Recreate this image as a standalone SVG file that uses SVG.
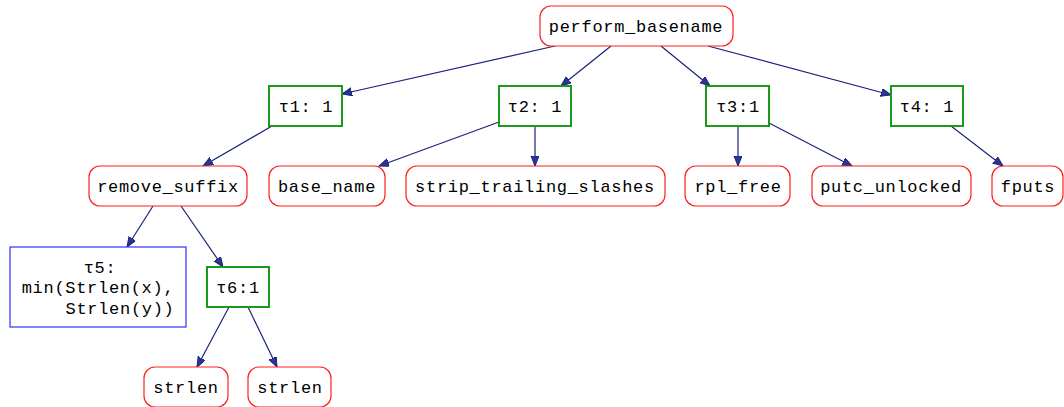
<svg xmlns="http://www.w3.org/2000/svg" width="1064" height="407" viewBox="0 0 1064 407">
<style>
text{font-family:"Liberation Mono","Courier New",monospace;font-size:17px;letter-spacing:0.7px;fill:#000;text-anchor:middle}
.fn{fill:#fff;stroke:#ff2020;stroke-width:1.2}
.t{fill:#fff;stroke:#1a9a1a;stroke-width:2}
.b{fill:#fff;stroke:#3030ff;stroke-width:1.2}
.e{stroke:#1a237a;stroke-width:1.2;fill:none;marker-end:url(#a)}
</style>
<defs>
<marker id="a" markerUnits="userSpaceOnUse" markerWidth="12" markerHeight="10" refX="10" refY="4" orient="auto">
<path d="M0,0 L10,4 L0,8 Z" fill="#2a3590" stroke="#1a237a" stroke-width="1"/>
</marker>
</defs>
<rect width="1064" height="407" fill="#fff"/>
<g id="connectors">
<line class="e" x1="555" y1="46" x2="342" y2="94"/>
<line class="e" x1="611" y1="46" x2="561" y2="86"/>
<line class="e" x1="661" y1="46" x2="710" y2="86"/>
<line class="e" x1="708" y1="46" x2="891" y2="95"/>
<line class="e" x1="272" y1="126" x2="203" y2="166"/>
<line class="e" x1="499" y1="122" x2="379" y2="166"/>
<line class="e" x1="535" y1="126" x2="535" y2="166"/>
<line class="e" x1="738" y1="126" x2="738" y2="166"/>
<line class="e" x1="769" y1="123" x2="852" y2="166"/>
<line class="e" x1="951" y1="126" x2="1003" y2="166"/>
<line class="e" x1="153" y1="206" x2="127" y2="247"/>
<line class="e" x1="181" y1="206" x2="223" y2="267"/>
<line class="e" x1="229" y1="307" x2="197" y2="367"/>
<line class="e" x1="248" y1="307" x2="277" y2="367"/>
</g>
<g id="perform_basename"><rect class="fn" x="540" y="6" width="193" height="40" rx="11"/><text x="636" y="32">perform_basename</text></g>
<g id="t1"><rect class="t" x="269" y="86" width="73" height="40"/><text x="306" y="112">τ1: 1</text></g>
<g id="t2"><rect class="t" x="499" y="86" width="72" height="40"/><text x="535" y="112">τ2: 1</text></g>
<g id="t3"><rect class="t" x="706" y="86" width="63" height="40"/><text x="738" y="112">τ3:1</text></g>
<g id="t4"><rect class="t" x="891" y="86" width="72" height="40"/><text x="927" y="112">τ4: 1</text></g>
<g id="remove_suffix"><rect class="fn" x="89" y="166" width="158" height="40" rx="11"/><text x="168" y="192">remove_suffix</text></g>
<g id="base_name"><rect class="fn" x="269" y="166" width="116" height="40" rx="11"/><text x="327" y="192">base_name</text></g>
<g id="strip_trailing_slashes"><rect class="fn" x="406" y="166" width="259" height="40" rx="11"/><text x="535" y="192">strip_trailing_slashes</text></g>
<g id="rpl_free"><rect class="fn" x="685" y="166" width="105" height="40" rx="11"/><text x="738" y="192">rpl_free</text></g>
<g id="putc_unlocked"><rect class="fn" x="812" y="166" width="159" height="40" rx="11"/><text x="891" y="192">putc_unlocked</text></g>
<g id="fputs"><rect class="fn" x="992" y="166" width="71" height="40" rx="11"/><text x="1028" y="192">fputs</text></g>
<g id="t5"><rect class="b" x="10" y="247" width="176" height="80"/><text x="100" y="273">τ5:</text><text x="98" y="293">min(Strlen(x),</text><text x="120" y="314">Strlen(y))</text></g>
<g id="t6"><rect class="t" x="207" y="267" width="62" height="40"/><text x="238" y="293">τ6:1</text></g>
<g id="strlen1"><rect class="fn" x="144" y="367" width="84" height="40" rx="11"/><text x="186" y="393">strlen</text></g>
<g id="strlen2"><rect class="fn" x="248" y="367" width="83" height="40" rx="11"/><text x="290" y="393">strlen</text></g>
</svg>
